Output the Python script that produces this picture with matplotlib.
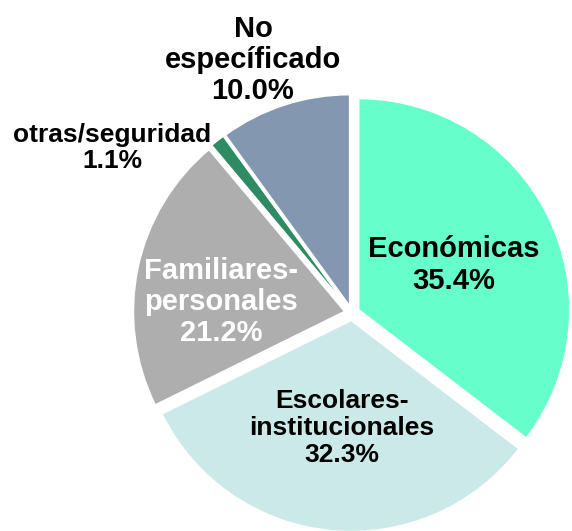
import matplotlib.pyplot as plt

plt.rcParams['font.family'] = ['Liberation Sans', 'DejaVu Sans']

# data
categories = ["Económicas", "Escolares-\ninstitucionales", "Familiares-\npersonales",
              "otras/seguridad", "No\nespecíficado"]
values = [35.4, 32.3, 21.2, 1.1, 10.0]
colors = ["#66FFCC", "#CCE9E9", "#AEAEAE", "#2E8B63", "#8497B0"]
text_colors = ["black", "black", "white", "black", "black"]

# label centres in pie units (radius = 1) and sizes
label_pos = [(0.483, 0.227), (-0.047, -0.545), (-0.621, 0.052), (-1.137, 0.782), (-0.469, 1.199)]
label_size = [21, 19, 21, 19, 21]

fig = plt.figure(figsize=(5.72, 5.31), dpi=100)
ax = fig.add_axes([0, 0, 1, 1])

# all slices pulled apart a little, like the excel chart
ax.pie(values, colors=colors, startangle=90, counterclock=False,
       explode=[0.036] * len(values), radius=1,
       wedgeprops=dict(edgecolor="white", linewidth=1))

for cat, val, pos, fs, tc in zip(categories, values, label_pos, label_size, text_colors):
    ax.text(pos[0], pos[1], f"{cat}\n{val:.1f}%", ha="center", va="center",
            fontsize=fs, fontweight="bold", color=tc, linespacing=1.15)

# centre of pie at about (352, 313) px, radius ~211 px
ax.set_xlim(-1.668, 1.043)
ax.set_ylim(-1.033, 1.483)
ax.set_aspect("equal")
ax.axis("off")

fig.savefig("out.png", dpi=100)
